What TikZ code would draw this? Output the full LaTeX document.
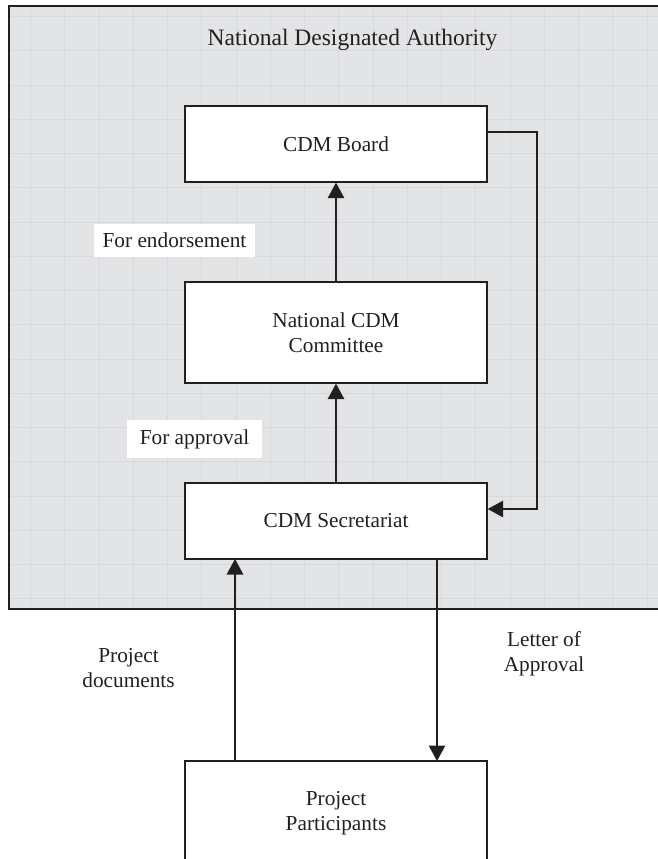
\documentclass[tikz,border=0pt]{standalone}
\usepackage{fontspec}
\setmainfont{Liberation Serif}
\usetikzlibrary{arrows.meta}
\definecolor{bg}{RGB}{227,228,230}
\definecolor{gridc}{RGB}{216,217,220}
\definecolor{ink}{RGB}{35,31,32}
\begin{document}
\begin{tikzpicture}[x=1pt,y=-1pt,
  txt/.style={font=\fontsize{21.3}{24.5}\selectfont, text=ink},
  box/.style={txt, draw=ink, line width=1.3pt, fill=white, minimum width=302pt, inner sep=0pt, align=center},
  lab/.style={txt, fill=white, inner sep=0pt, align=center},
  plain/.style={txt, inner sep=0pt, align=center},
  conn/.style={draw=ink, line width=1.3pt},
  arr/.style={conn, -{Triangle[length=15.5pt,width=16.5pt]}}]
\useasboundingbox (0,0) rectangle (657,859);
% frame with grid
\fill[bg] (9,6) rectangle (690,609);
\begin{scope}
  \clip (9,6) rectangle (690,609);
  \foreach \k in {0,...,19} {
    \draw[gridc, line width=0.8pt] ({30.5+34.25*\k},6) -- ({30.5+34.25*\k},609);
  }
  \foreach \k in {0,...,17} {
    \draw[gridc, line width=0.8pt] (9,{16.5+34.25*\k}) -- (690,{16.5+34.25*\k});
  }
\end{scope}
\draw[ink, line width=1.3pt] (690,6) -- (9,6) -- (9,609) -- (690,609);
% title
\node[plain, font=\fontsize{23.5}{27}\selectfont] (title) at (352.5,40) {National Designated Authority};
% boxes
\node[box, minimum height=76pt] (board) at (336,144) {CDM Board};
\node[box, minimum height=101pt] (comm) at (336,332.5) {National CDM\\Committee};
\node[box, minimum height=76pt] (sec) at (336,521) {CDM Secretariat};
\node[box, minimum height=104pt] (part) at (336,813) {Project\\Participants};
% labels
\node[lab, minimum width=161pt, minimum height=33pt] (lend) at (174.5,240.5) {For endorsement};
\node[lab, minimum width=135pt, minimum height=38pt] (lapp) at (194.5,439) {For approval};
\node[plain] (ldoc) at (128.5,668) {Project\\documents};
\node[plain] (lloa) at (544,654) {Letter of\\Approval};
% connectors
\draw[arr] (comm.north) -- (board.south);
\draw[arr] (sec.north) -- (comm.south);
\coordinate (bo) at (board.east |- 0,132);
\coordinate (c1) at (537,132);
\coordinate (c2) at (537,509);
\coordinate (si) at (sec.east |- 0,509);
\draw[arr] (bo) -- (c1) -- (c2) -- (si);
\coordinate (pu) at (235,761);
\coordinate (su) at (235,559);
\draw[arr] (pu) -- (su);
\coordinate (sd) at (437,559);
\coordinate (pd) at (437,761);
\draw[arr] (sd) -- (pd);
\end{tikzpicture}
\end{document}
